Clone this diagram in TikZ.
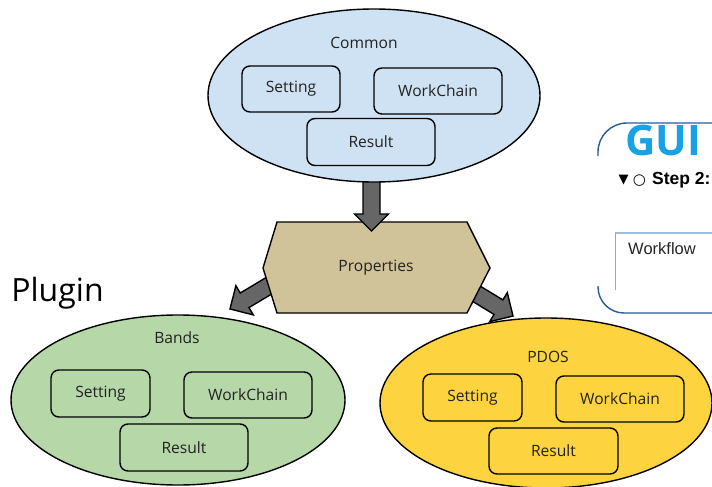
\documentclass[tikz,border=0pt]{standalone}
\usepackage{fontspec}
\setmainfont{Open Sans}
\newfontfamily\uifont{Liberation Sans}
\newfontfamily\symfont{DejaVu Sans}
\usetikzlibrary{shapes.geometric,calc}

\definecolor{commonfill}{HTML}{CFE2F3}
\definecolor{bandsfill}{HTML}{B6D7A8}
\definecolor{pdosfill}{HTML}{FDD33F}
\definecolor{propfill}{HTML}{D0C299}
\definecolor{arrowgray}{HTML}{666666}
\definecolor{txt}{HTML}{222222}
\definecolor{guiblue}{HTML}{17A2E6}
\definecolor{frameblue}{HTML}{2C5A96}
\definecolor{panelline}{HTML}{9DBEDD}

% fat block arrow from a tail coordinate to a tip coordinate
\newcommand\blockarrow[2]{%
  \coordinate (hb) at ($(#2)!17pt!(#1)$);
  \draw[fill=arrowgray, line width=1.4pt, line join=miter]
    ($(#1)!8.5pt!90:(#2)$) -- ($(hb)!8.5pt!-90:(#1)$) -- ($(hb)!17pt!-90:(#1)$)
    -- (#2) -- ($(hb)!17pt!90:(#1)$) -- ($(hb)!8.5pt!90:(#1)$)
    -- ($(#1)!8.5pt!-90:(#2)$) -- cycle;
}

\begin{document}
\begin{tikzpicture}[x=1pt, y=-1pt,
  group/.style={ellipse, draw=black, line width=1.4pt, inner sep=0pt},
  part/.style={rounded corners=8pt, draw=black, line width=1.4pt, inner sep=0pt,
    font=\fontsize{15.6}{18}\selectfont, text=txt},
  title/.style={font=\fontsize{15.6}{18}\selectfont, text=txt, inner sep=0pt},
]
\useasboundingbox (0,0) rectangle (712,487);

% ---- connectors between the groups (drawn underneath) ----
\coordinate (propL) at (287,275);
\coordinate (bandsTip) at (230,309);
\coordinate (propR) at (462,285);
\coordinate (pdosTip) at (513,316);
\blockarrow{propL}{bandsTip}
\blockarrow{propR}{pdosTip}

% ---- Properties hexagon ----
\draw[fill=propfill, line width=1.4pt, line join=miter]
  (277,222) -- (467,222) -- (490,268) -- (467,313) -- (277,313) -- (263,268) -- cycle;
\node[title] (prop) at (376,268) {Properties};

% ---- Common -> Properties ----
\coordinate (commonFoot) at (371.5,170);
\coordinate (propTop) at (371.5,231);
\blockarrow{commonFoot}{propTop}

% ---- Common group ----
\node[group, fill=commonfill, minimum width=332pt, minimum height=173pt] (common) at (374,95.5) {};
\node[title] (commonT) at (364,43) {Common};
\node[part, fill=commonfill, minimum width=98pt, minimum height=46pt] (cSet) at (291,89) {Setting};
\node[part, fill=commonfill, minimum width=128pt, minimum height=46pt] (cWC) at (438,91) {WorkChain};
\node[part, fill=commonfill, minimum width=128pt, minimum height=47pt] (cRes) at (371,142) {Result};

% ---- Bands plugin ----
\node[group, fill=bandsfill, minimum width=334pt, minimum height=170pt] (bands) at (178,400) {};
\node[title] (bandsT) at (177,338) {Bands};
\node[part, fill=bandsfill, minimum width=99pt, minimum height=47pt] (bSet) at (100.5,393.5) {Setting};
\node[part, fill=bandsfill, minimum width=128pt, minimum height=46pt] (bWC) at (248,395) {WorkChain};
\node[part, fill=bandsfill, minimum width=128pt, minimum height=47pt] (bRes) at (184,447.5) {Result};

% ---- PDOS plugin ----
\node[group, fill=pdosfill, minimum width=332pt, minimum height=170pt] (pdos) at (546,403) {};
\node[title] (pdosT) at (548,357) {PDOS};
\node[part, fill=pdosfill, minimum width=99pt, minimum height=47pt] (pSet) at (472.5,397.5) {Setting};
\node[part, fill=pdosfill, minimum width=128pt, minimum height=46pt] (pWC) at (620,399) {WorkChain};
\node[part, fill=pdosfill, minimum width=129pt, minimum height=46pt] (pRes) at (553.5,451) {Result};

% ---- Plugin label ----
\node[font=\fontsize{32}{36}\selectfont, text=black, inner sep=0pt] (plugin) at (57.5,293) {Plugin};

% ---- GUI panel ----
\draw[frameblue, line width=1.4pt, rounded corners=29pt] (598,156) -- (598,123) -- (712,123);
\draw[frameblue, line width=1.4pt, rounded corners=26pt] (598,286) -- (598,313) -- (712,313);
\node[font=\bfseries\fontsize{42}{46}\selectfont, text=guiblue, inner sep=0pt, anchor=west] (gui) at (625,140.5) {GUI};
\node[font=\symfont\fontsize{13}{14}\selectfont, text=black, inner sep=0pt] (tri) at (623.5,180) {▼};
\node[font=\symfont\fontsize{15}{16}\selectfont, text=black, inner sep=0pt] (circ) at (639.5,181) {○};
\node[font=\uifont\bfseries\fontsize{17.5}{20}\selectfont, text=black, inner sep=0pt, anchor=west] (step) at (652,180) {Step 2:};
\draw[panelline, line width=1.2pt] (615,233) -- (712,233);
\draw[gray!70, line width=1pt] (615,233) -- (615,290);
\node[font=\uifont\fontsize{16.5}{18}\selectfont, text=black!85, inner sep=0pt] (workflow) at (662,249) {Workflow};
\end{tikzpicture}
\end{document}
